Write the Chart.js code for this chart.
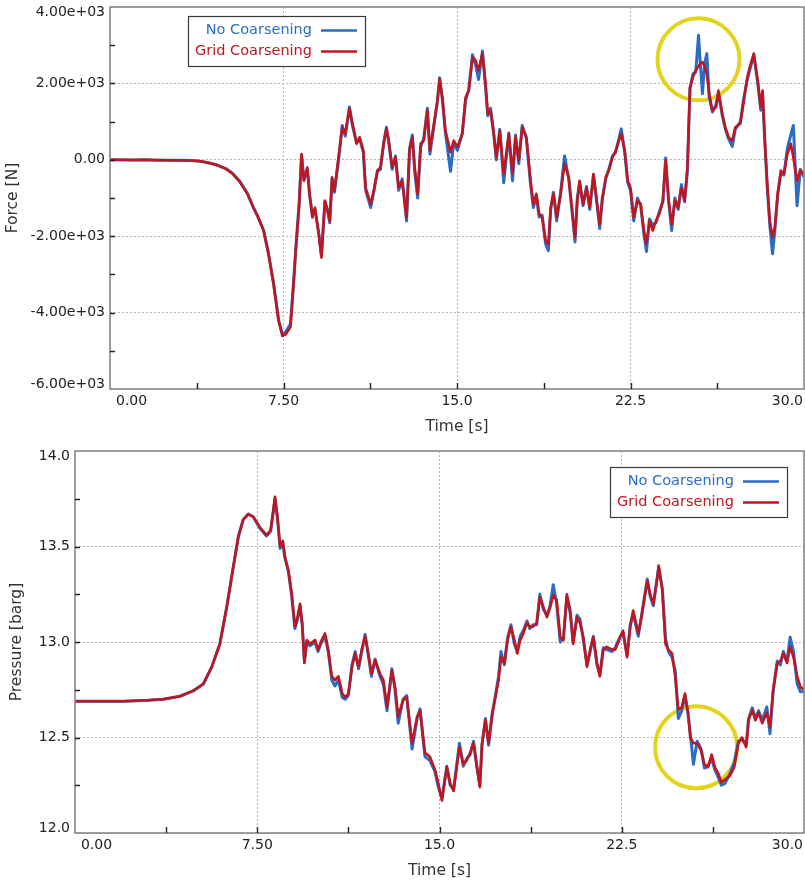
<!DOCTYPE html>
<html><head><meta charset="utf-8">
<script src="https://cdn.jsdelivr.net/npm/chart.js@4/dist/chart.umd.min.js"></script>
<style>
html,body{margin:0;padding:0;background:#fff;}
#wrap{position:relative;width:805px;height:880px;}
canvas{position:absolute;left:0;}
#c1{top:0}
#c2{top:440px}
</style></head><body>
<div id="wrap"><canvas id="c1" width="805" height="440"></canvas><canvas id="c2" width="805" height="440"></canvas></div>
<script>
// ---------- DATA ----------
const seriesNames = ['No Coarsening', 'Grid Coarsening'];

const forceTime = [
  0, 0.5, 1.0, 1.5, 2.0, 2.5, 3.0, 3.5, 3.9, 4.2,
  4.6, 5.0, 5.3, 5.6, 5.94, 6.2, 6.4, 6.64, 6.85, 7.07,
  7.29, 7.46, 7.6, 7.8, 7.93, 8.05, 8.17, 8.28, 8.38, 8.53,
  8.63, 8.75, 8.86, 9.02, 9.14, 9.29, 9.4, 9.5, 9.6, 9.7,
  9.88, 10.04, 10.17, 10.35, 10.48, 10.66, 10.79, 10.95, 11.05, 11.27,
  11.4, 11.56, 11.69, 11.83, 11.95, 12.05, 12.2, 12.34, 12.48, 12.63,
  12.82, 12.95, 13.07, 13.17, 13.3, 13.43, 13.56, 13.72, 13.83, 13.98,
  14.15, 14.25, 14.37, 14.5, 14.72, 14.86, 15.02, 15.23, 15.37, 15.51,
  15.67, 15.8, 15.93, 16.1, 16.23, 16.33, 16.45, 16.58, 16.7, 16.85,
  17.02, 17.24, 17.4, 17.53, 17.67, 17.82, 18.0, 18.18, 18.3, 18.43,
  18.55, 18.68, 18.83, 18.95, 19.05, 19.17, 19.31, 19.48, 19.65, 19.83,
  19.99, 20.1, 20.2, 20.3, 20.45, 20.6, 20.74, 20.9, 21.04, 21.17,
  21.28, 21.43, 21.56, 21.72, 21.86, 22.0, 22.1, 22.25, 22.38, 22.5,
  22.64, 22.8, 22.94, 23.08, 23.19, 23.32, 23.46, 23.6, 23.75, 23.9,
  24.02, 24.15, 24.28, 24.42, 24.56, 24.7, 24.84, 24.96, 25.07, 25.2,
  25.32, 25.44, 25.52, 25.61, 25.7, 25.8, 25.9, 26.04, 26.2, 26.3,
  26.47, 26.6, 26.74, 26.9, 27.03, 27.25, 27.38, 27.55, 27.7, 27.83,
  28.0, 28.13, 28.21, 28.31, 28.42, 28.52, 28.64, 28.74, 28.86, 29.0,
  29.13, 29.28, 29.43, 29.54, 29.7, 29.84, 30.0
];
const forceNoCoarsening = [
  0, -5, -5, 0, -10, -10, -15, -20, -40, -70,
  -130, -230, -360, -560, -885, -1250, -1500, -1850, -2450, -3230,
  -4200, -4600, -4500, -4300, -3250, -2150, -1200, 100, -500, -250,
  -950, -1450, -1300, -1900, -2500, -1100, -1300, -1650, -500, -850,
  0, 900, 620, 1380, 900, 450, 550, 200, -800, -1250,
  -850, -300, -250, 450, 850, 450, -250, 100, -800, -500,
  -1600, 300, 650, -300, -1000, 350, 550, 1350, 150, 800,
  1500, 2150, 1550, 700, -300, 450, 250, 700, 1550, 1850,
  2750, 2500, 2100, 2850, 1950, 1150, 1350, 700, 0, 800,
  -600, 700, -550, 650, -100, 900, 550, -650, -1250, -950,
  -1500, -1450, -2200, -2380, -1300, -850, -1600, -850, 100, -500,
  -1450, -2150, -1000, -600, -1200, -700, -1300, -400, -1100, -1800,
  -1000, -500, -250, 100, 200, 550, 810, 200, -600, -800,
  -1600, -1000, -1200, -1950, -2400, -1550, -1700, -1650, -1350, -1100,
  50, -1100, -1850, -1000, -1300, -650, -1100, -300, 1850, 2250,
  2300, 3260, 2500, 1730, 2500, 2780, 1650, 1250, 1450, 1750,
  1150, 800, 550, 350, 800, 1000, 1550, 2100, 2450, 2750,
  2000, 1300, 1700, 400, -800, -1700, -2460, -1850, -950, -350,
  -400, 300, 650, 900, -1200, -250, -450
];
const forceGridCoarsening = [
  0, 0, -5, 0, -5, -10, -10, -20, -40, -70,
  -130, -230, -360, -560, -885, -1250, -1500, -1850, -2460, -3250,
  -4220, -4610, -4570, -4380, -3300, -2200, -1250, 150, -550, -200,
  -890, -1510, -1250, -1940, -2560, -1070, -1330, -1600, -460, -810,
  60, 850, 680, 1340, 950, 420, 590, 240, -730, -1160,
  -810, -280, -200, 420, 810, 500, -200, 60, -730, -550,
  -1510, 240, 590, -200, -890, 420, 500, 1290, 240, 850,
  1550, 2120, 1630, 760, 200, 500, 330, 680, 1630, 1810,
  2680, 2600, 2340, 2780, 2000, 1200, 1290, 760, 60, 760,
  -370, 680, -370, 590, -20, 850, 590, -550, -1160, -890,
  -1410, -1510, -2120, -2210, -1250, -890, -1510, -890, -100, -460,
  -1410, -2030, -1070, -550, -1160, -730, -1250, -370, -1070, -1690,
  -1070, -460, -280, 60, 240, 500, 680, 240, -550, -730,
  -1510, -1070, -1160, -1850, -2210, -1600, -1850, -1600, -1410, -1070,
  -20, -1070, -1690, -1070, -1250, -730, -1070, -200, 1900, 2170,
  2340, 2450, 2520, 2560, 2450, 2250, 1730, 1290, 1380, 1810,
  1200, 850, 590, 500, 850, 950, 1470, 2170, 2520, 2780,
  2080, 1380, 1810, 500, -730, -1600, -2030, -1770, -890, -280,
  -370, 150, 420, 60, -550, -280, -370
];

const pressureTime = [
  0, 1, 2, 3, 3.63, 4.32, 4.86, 5.28, 5.63, 5.96,
  6.24, 6.51, 6.72, 6.92, 7.13, 7.34, 7.61, 7.88, 8.05, 8.16,
  8.23, 8.33, 8.44, 8.55, 8.64, 8.78, 8.92, 9.05, 9.16, 9.26,
  9.35, 9.44, 9.54, 9.67, 9.88, 10.0, 10.15, 10.29, 10.42, 10.57,
  10.7, 10.84, 11.0, 11.12, 11.25, 11.4, 11.53, 11.67, 11.8, 11.94,
  12.07, 12.2, 12.35, 12.55, 12.69, 12.84, 13.04, 13.17, 13.3, 13.5,
  13.65, 13.87, 14.08, 14.2, 14.4, 14.6, 14.82, 14.95, 15.1, 15.3,
  15.44, 15.58, 15.82, 15.98, 16.12, 16.26, 16.4, 16.53, 16.66, 16.75,
  16.89, 17.02, 17.16, 17.3, 17.43, 17.53, 17.67, 17.8, 17.94, 18.08,
  18.2, 18.32, 18.45, 18.6, 18.72, 18.85, 19.0, 19.13, 19.28, 19.42,
  19.55, 19.68, 19.82, 19.97, 20.1, 20.24, 20.38, 20.5, 20.66, 20.78,
  20.92, 21.07, 21.2, 21.33, 21.48, 21.6, 21.74, 21.88, 22.1, 22.23,
  22.44, 22.55, 22.72, 22.85, 22.97, 23.18, 23.34, 23.55, 23.67, 23.8,
  23.97, 24.02, 24.17, 24.3, 24.42, 24.57, 24.7, 24.83, 24.97, 25.1,
  25.23, 25.32, 25.45, 25.6, 25.77, 25.9, 26.05, 26.2, 26.33, 26.48,
  26.6, 26.75, 26.95, 27.13, 27.3, 27.45, 27.62, 27.72, 27.87, 28.0,
  28.13, 28.28, 28.47, 28.6, 28.73, 28.9, 29.03, 29.15, 29.3, 29.43,
  29.57, 29.72, 29.85, 30.0
];
const pressureNoCoarsening = [
  12.69, 12.69, 12.69, 12.695, 12.70, 12.716, 12.744, 12.78, 12.87, 12.99,
  13.18, 13.39, 13.55, 13.64, 13.67, 13.655, 13.595, 13.555, 13.58, 13.68,
  13.75, 13.65, 13.49, 13.52, 13.44, 13.37, 13.24, 13.07, 13.12, 13.19,
  13.09, 12.90, 13.00, 12.98, 13.00, 12.95, 13.00, 13.03, 12.95, 12.80,
  12.77, 12.80, 12.71, 12.70, 12.72, 12.88, 12.95, 12.86, 12.95, 13.04,
  12.93, 12.82, 12.91, 12.82, 12.78, 12.64, 12.86, 12.75, 12.575, 12.70,
  12.72, 12.44, 12.60, 12.65, 12.40, 12.38, 12.32, 12.24, 12.18, 12.35,
  12.25, 12.23, 12.47, 12.35, 12.39, 12.41, 12.48, 12.35, 12.25, 12.46,
  12.60, 12.46, 12.62, 12.72, 12.82, 12.95, 12.88, 13.02, 13.09, 12.99,
  12.95, 13.03, 13.06, 13.11, 13.07, 13.09, 13.09, 13.25, 13.17, 13.14,
  13.19, 13.30, 13.20, 13.00, 13.02, 13.24, 13.15, 13.00, 13.14, 13.12,
  13.01, 12.88, 12.95, 13.03, 12.88, 12.83, 12.97, 12.96, 12.95, 12.97,
  13.03, 13.05, 12.93, 13.09, 13.15, 13.03, 13.16, 13.33, 13.24, 13.19,
  13.35, 13.39, 13.28, 13.02, 12.95, 12.92, 12.85, 12.60, 12.64, 12.72,
  12.62, 12.52, 12.36, 12.48, 12.44, 12.34, 12.35, 12.39, 12.33, 12.29,
  12.25, 12.26, 12.31, 12.37, 12.48, 12.49, 12.46, 12.60, 12.655, 12.60,
  12.64, 12.59, 12.66, 12.52, 12.74, 12.90, 12.88, 12.95, 12.90, 13.025,
  12.95, 12.78, 12.74, 12.74
];
const pressureGridCoarsening = [
  12.69, 12.69, 12.69, 12.695, 12.70, 12.716, 12.744, 12.78, 12.87, 12.99,
  13.18, 13.39, 13.55, 13.64, 13.67, 13.655, 13.60, 13.56, 13.585, 13.69,
  13.76, 13.655, 13.50, 13.53, 13.445, 13.376, 13.25, 13.08, 13.13, 13.20,
  13.097, 12.89, 13.01, 12.99, 13.01, 12.96, 13.01, 13.045, 12.96, 12.82,
  12.80, 12.82, 12.73, 12.71, 12.73, 12.87, 12.94, 12.87, 12.96, 13.03,
  12.94, 12.835, 12.905, 12.835, 12.80, 12.66, 12.85, 12.765, 12.61, 12.695,
  12.71, 12.47, 12.61, 12.64, 12.42, 12.40, 12.33, 12.26, 12.17, 12.345,
  12.26, 12.22, 12.45, 12.36, 12.38, 12.42, 12.47, 12.36, 12.24, 12.47,
  12.59, 12.47, 12.61, 12.71, 12.80, 12.92, 12.89, 13.01, 13.08, 13.01,
  12.94, 13.01, 13.045, 13.10, 13.08, 13.08, 13.10, 13.235, 13.18, 13.13,
  13.18, 13.245, 13.22, 13.025, 13.01, 13.25, 13.165, 12.99, 13.13, 13.10,
  13.025, 12.87, 12.96, 13.025, 12.89, 12.82, 12.96, 12.975, 12.96, 12.96,
  13.025, 13.06, 12.92, 13.08, 13.165, 13.045, 13.15, 13.32, 13.25, 13.20,
  13.34, 13.40, 13.27, 12.99, 12.96, 12.94, 12.82, 12.645, 12.66, 12.73,
  12.63, 12.50, 12.47, 12.47, 12.43, 12.36, 12.345, 12.41, 12.345, 12.31,
  12.265, 12.28, 12.30, 12.345, 12.47, 12.50, 12.45, 12.59, 12.645, 12.59,
  12.63, 12.575, 12.63, 12.555, 12.75, 12.89, 12.90, 12.94, 12.89, 12.975,
  12.92, 12.82, 12.765, 12.75
];

// highlighted regions (centre in data units)
const forceMarkTime = [25.44];
const forceMarkValue = [2629];
const pressureMarkTime = [25.56];
const pressureMarkValue = [12.449];

// tick label formats
const timeTickLabel = v => v.toPrecision(3);
const forceTickLabel = v => v === 0 ? '0.00' : v.toExponential(2).replace(/e([+-])(\d)$/, 'e$10$2');
const pressureTickLabel = v => v.toFixed(1);

// ---------- DRAWING ----------
const FONT = "'DejaVu Sans', sans-serif";
const BLUE = '#2c6cc6';
const RED = '#c0161f';
const MARK = '#e4d31d';

function makeChart(id, o) {
  const near = (v, step) => Math.abs(v / step - Math.round(v / step)) < 1e-6;
  const pts = (xs, ys) => xs.map((x, i) => ({x: x, y: ys[i]}));

  const frame = {
    id: 'frame_' + id,
    beforeDatasetsDraw(chart) {
      const ctx = chart.ctx, xs = chart.scales.x, ys = chart.scales.y;
      ctx.save();
      ctx.strokeStyle = MARK; ctx.lineWidth = 4;
      o.markT.forEach((t, i) => {
        ctx.beginPath();
        ctx.arc(xs.getPixelForValue(t), ys.getPixelForValue(o.markV[i]), 41, 0, Math.PI * 2);
        ctx.stroke();
      });
      ctx.restore();
    },
    afterDraw(chart) {
      const ctx = chart.ctx, a = chart.chartArea, xs = chart.scales.x, ys = chart.scales.y;
      ctx.save();
      // frame
      ctx.strokeStyle = '#8a8a8a'; ctx.lineWidth = 1.6;
      ctx.strokeRect(a.left, a.top, a.right - a.left, a.bottom - a.top);
      // inward ticks
      ctx.strokeStyle = '#222'; ctx.lineWidth = 1.4;
      ctx.beginPath();
      xs.ticks.forEach(tk => {
        if (tk.value <= xs.min || tk.value >= xs.max) return;
        const p = Math.round(xs.getPixelForValue(tk.value)) + 0.5;
        ctx.moveTo(p, a.bottom); ctx.lineTo(p, a.bottom - 6);
      });
      ys.ticks.forEach(tk => {
        if (tk.value <= ys.min || tk.value >= ys.max) return;
        const p = Math.round(ys.getPixelForValue(tk.value)) + 0.5;
        ctx.moveTo(a.left, p); ctx.lineTo(a.left + 5, p);
      });
      ctx.stroke();
      // tick labels
      ctx.fillStyle = '#222'; ctx.font = '14px ' + FONT; ctx.textBaseline = 'middle';
      const mx = xs.ticks.filter(tk => near(tk.value, o.xMajor));
      mx.forEach((tk, i) => {
        let x = xs.getPixelForValue(tk.value), al = 'center';
        if (i === 0) { al = 'left'; x = a.left + 6; }
        else if (i === mx.length - 1) { al = 'right'; x = a.right - 1; }
        ctx.textAlign = al;
        ctx.fillText(o.fmtX(tk.value), x, a.bottom + 12.5);
      });
      ctx.textAlign = 'right';
      ys.ticks.filter(tk => near(tk.value, o.yMajor)).forEach(tk => {
        const p = Math.min(Math.max(ys.getPixelForValue(tk.value), a.top + 5), a.bottom - 5);
        ctx.fillText(o.fmtY(tk.value), a.left - 5, p);
      });
      // legend
      const L = o.legend(a);
      ctx.fillStyle = '#fff';
      ctx.fillRect(L.x, L.y, 177, 50);
      ctx.strokeStyle = '#3a3a3a'; ctx.lineWidth = 1.2;
      ctx.strokeRect(L.x + 0.5, L.y + 0.5, 177, 50);
      [0, 1].forEach((di, r) => {
        const ds = chart.data.datasets[di];
        const yy = L.y + 14.5 + r * 21;
        ctx.fillStyle = ds.borderColor; ctx.textAlign = 'right';
        ctx.font = '14.5px ' + FONT;
        ctx.fillText(ds.label, L.x + 124, yy);
        ctx.strokeStyle = ds.borderColor; ctx.lineWidth = 2.6;
        ctx.beginPath(); ctx.moveTo(L.x + 133, yy); ctx.lineTo(L.x + 169, yy); ctx.stroke();
      });
      ctx.restore();
    }
  };

  return new Chart(document.getElementById(id), {
    type: 'line',
    data: {
      datasets: [
        {label: seriesNames[0], data: pts(o.t, o.blue), borderColor: BLUE, borderWidth: 3.0, order: 2},
        {label: seriesNames[1], data: pts(o.t, o.red), borderColor: RED, borderWidth: 2.6, order: 1}
      ]
    },
    options: {
      responsive: false, animation: false, devicePixelRatio: 1, events: [],
      layout: {padding: o.pad},
      elements: {point: {radius: 0}, line: {tension: 0, borderJoinStyle: 'round', borderCapStyle: 'round'}},
      plugins: {legend: {display: false}, tooltip: {enabled: false}},
      scales: {
        x: {
          type: 'linear', min: 0, max: 30,
          ticks: {display: false, stepSize: o.xMajor / 2},
          grid: {drawTicks: false, lineWidth: 1, color: c => near(c.tick.value, o.xMajor) ? '#b4b4b4' : 'rgba(0,0,0,0)'},
          border: {display: false, dash: [2, 2]},
          title: {display: true, text: o.xTitle, color: '#333', font: {family: FONT, size: 15.5}, padding: {top: 0, bottom: o.xTitlePad}},
          afterFit: s => { s.height = o.xH; }
        },
        y: {
          type: 'linear', min: o.yMin, max: o.yMax,
          ticks: {display: false, stepSize: o.yMajor / 2},
          grid: {drawTicks: false, lineWidth: 1, color: c => near(c.tick.value, o.yMajor) ? '#b4b4b4' : 'rgba(0,0,0,0)'},
          border: {display: false, dash: [2, 2]},
          title: {display: true, text: o.yTitle, color: '#333', font: {family: FONT, size: 15.5}, padding: {top: o.yTitlePad, bottom: 0}},
          afterFit: s => { s.width = o.yW; }
        }
      }
    },
    plugins: [frame]
  });
}

makeChart('c1', {
  t: forceTime, blue: forceNoCoarsening, red: forceGridCoarsening,
  markT: forceMarkTime, markV: forceMarkValue,
  yMin: -6000, yMax: 4000, yMajor: 2000, xMajor: 7.5,
  fmtX: timeTickLabel, fmtY: forceTickLabel,
  xTitle: 'Time [s]', yTitle: 'Force [N]',
  pad: {left: 0, right: 1, top: 7, bottom: 0},
  xH: 51, yW: 110, xTitlePad: 3.7, yTitlePad: 3.2,
  legend: a => ({x: a.left + 78, y: a.top + 9})
});

makeChart('c2', {
  t: pressureTime, blue: pressureNoCoarsening, red: pressureGridCoarsening,
  markT: pressureMarkTime, markV: pressureMarkValue,
  yMin: 12, yMax: 14, yMajor: 0.5, xMajor: 7.5,
  fmtX: timeTickLabel, fmtY: pressureTickLabel,
  xTitle: 'Time [s]', yTitle: 'Pressure [barg]',
  pad: {left: 0, right: 1, top: 11, bottom: 0},
  xH: 47, yW: 75, xTitlePad: 0, yTitlePad: 7.4,
  legend: a => ({x: a.right - 194, y: a.top + 16})
});
</script>
</body></html>
